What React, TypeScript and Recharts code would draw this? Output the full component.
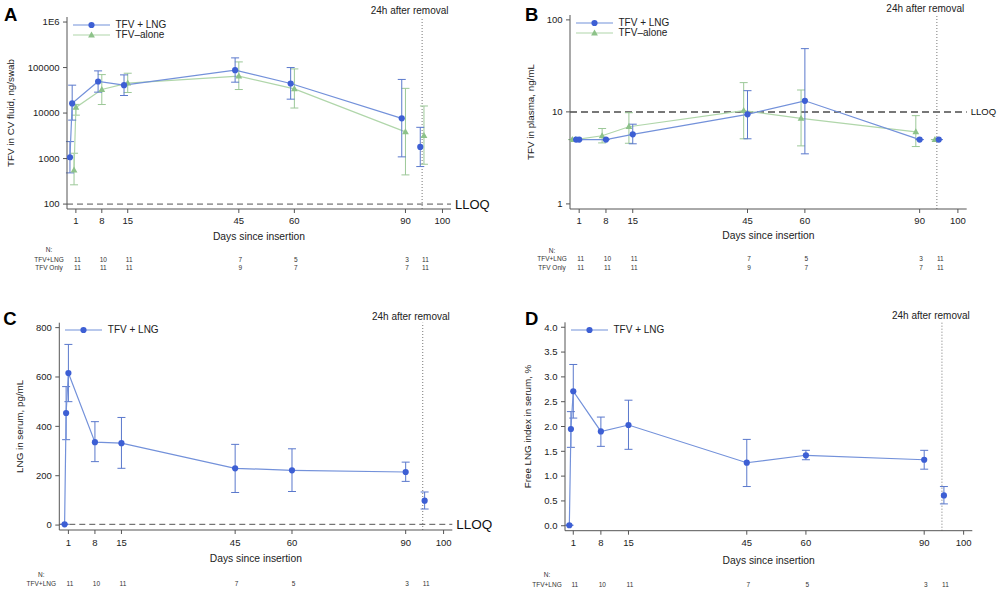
import React from "react";
import {
  ErrorBar,
  Label,
  Legend,
  Line,
  LineChart,
  ReferenceLine,
  XAxis,
  YAxis,
} from "recharts";

const FONT = "'Liberation Sans', Arial, Helvetica, sans-serif";
const INK = "#222";
const FRAME = "#555";
const BLUE = "#3d5fd4";
const BLUE_LINE = "#7391da";
const BLUE_ERR = "#5a78cc";
const GREEN = "#8dc289";
const GREEN_LINE = "#b0d6aa";
const GREEN_ERR = "#9cc898";

// shared x axis / N table
const dayTicks = [1, 8, 15, 45, 60, 90, 100];
const nDays = [1, 8, 15, 45, 60, 90, 95];
const nTfvLng = [11, 10, 11, 7, 5, 3, 11];
const nTfvOnly = [11, 11, 11, 9, 7, 7, 11];
const removalDay = 94.5;

// A: TFV in CV fluid (last entry = 24h after removal)
const aLngDays = [-0.6, 0, 7, 14, 44, 59, 89, 94];
const aLngMean = [1070, 16300, 49400, 41000, 87500, 44600, 7650, 1800];
const aLngLow = [485, 7000, 28800, 24300, 47700, 20200, 1090, 668];
const aLngHigh = [2360, 41000, 84500, 69000, 163000, 100000, 54800, 4860];
const aAloneDays = [0.5, 1, 8, 15, 45, 60, 90, 95];
const aAloneMean = [560, 13300, 32900, 45300, 64500, 34000, 3850, 3200];
const aAloneLow = [265, 9000, 15400, 28300, 32900, 12900, 438, 751];
const aAloneHigh = [1310, 15500, 70000, 75000, 133000, 93300, 34900, 14300];
const aTicks = [100, 1000, 10000, 100000, 1000000];

// B: TFV in plasma
const bLngDays = [0.2, 1, 8, 15, 45, 60, 90, 95];
const bLngMean = [5, 5, 5, 5.7, 9.4, 13.2, 5, 5];
const bLngLow = [5, 5, 5, 4.5, 5.1, 3.5, 5, 5];
const bLngHigh = [5, 5, 5, 7.35, 17, 48.7, 5, 5];
const bAloneDays = [-0.8, 0, 7, 14, 44, 59, 89, 94];
const bAloneMean = [5, 5, 5.5, 6.9, 10.3, 8.5, 6.06, 5];
const bAloneLow = [5, 5, 4.6, 4.56, 5.1, 4.27, 4.2, 5];
const bAloneHigh = [5, 5, 6.6, 9.8, 20.8, 17.3, 9.1, 5];
const bTicks = [1, 10, 100];

// C: LNG in serum
const cDays = [0, 0.4, 1, 8, 15, 45, 60, 90, 95];
const cMean = [3, 454, 616, 336, 332, 230, 222, 215, 99];
const cLow = [3, 346, 500, 257, 230, 132, 136, 177, 65];
const cHigh = [3, 561, 732, 419, 436, 327, 309, 255, 134];
const cTicks = [0, 200, 400, 600, 800];

// D: free LNG index
const dDays = [0, 0.4, 1, 8, 15, 45, 60, 90, 95];
const dMean = [0.01, 1.95, 2.71, 1.9, 2.03, 1.27, 1.42, 1.33, 0.61];
const dLow = [0.01, 1.58, 2.17, 1.6, 1.54, 0.79, 1.33, 1.14, 0.44];
const dHigh = [0.01, 2.3, 3.25, 2.19, 2.53, 1.74, 1.52, 1.52, 0.79];
const dTicks = [0, 0.5, 1, 1.5, 2, 2.5, 3, 3.5, 4];

type Pt = { day: number; v: number; err: [number, number] };
type Series = {
  name: string;
  kind: "circle" | "triangle";
  days: number[];
  mean: number[];
  low: number[];
  high: number[];
  color: string;
  line: string;
  err: string;
};

function toPoints(s: Series): Pt[] {
  return s.days.map((d, i) => ({
    day: d,
    v: s.mean[i],
    err: [s.mean[i] - s.low[i], s.high[i] - s.mean[i]],
  }));
}

function drawMarker(kind: string, color: string, cx: number, cy: number, key?: any) {
  if (kind === "triangle") {
    return (
      <polygon
        key={key}
        points={`${cx},${cy - 3.6} ${cx - 3.4},${cy + 2.4} ${cx + 3.4},${cy + 2.4}`}
        fill={color}
      />
    );
  }
  return <circle key={key} cx={cx} cy={cy} r={3.1} fill={color} />;
}

function dotFor(kind: string, color: string) {
  return (p: any) => {
    if (p.cx == null || p.cy == null) return <g key={p.index} />;
    return drawMarker(kind, color, p.cx, p.cy, p.index);
  };
}

const lngA: Series = { name: "TFV + LNG", kind: "circle", days: aLngDays, mean: aLngMean, low: aLngLow, high: aLngHigh, color: BLUE, line: BLUE_LINE, err: BLUE_ERR };
const aloneA: Series = { name: "TFV\u2013alone", kind: "triangle", days: aAloneDays, mean: aAloneMean, low: aAloneLow, high: aAloneHigh, color: GREEN, line: GREEN_LINE, err: GREEN_ERR };
const lngB: Series = { ...lngA, days: bLngDays, mean: bLngMean, low: bLngLow, high: bLngHigh };
const aloneB: Series = { ...aloneA, days: bAloneDays, mean: bAloneMean, low: bAloneLow, high: bAloneHigh };
const lngC: Series = { ...lngA, days: cDays, mean: cMean, low: cLow, high: cHigh };
const lngD: Series = { ...lngA, days: dDays, mean: dMean, low: dLow, high: dHigh };

type PanelProps = {
  letter: string;
  letterPos: [number, number];
  left: number;
  top: number;
  width: number;
  height: number;
  plot: { l: number; r: number; t: number; b: number };
  xDomain: [number, number];
  yScale: "log" | "linear";
  yDomain: [number, number];
  yTicks: number[];
  yFmt: (v: number) => string;
  yLabel: string;
  yLabelX: number;
  series: Series[]; // drawn in this order, legend listed in reverse
  lloq?: { y: number; size: number; width: number; color: string; dash: string };
  xTickMargin: number;
  daysBase: number;
  nBase: number;
  rowBases: number[];
  rows: { label: string; values: number[] }[];
};

function Panel(p: PanelProps) {
  const axisH = p.daysBase + 1;
  const tableH = p.rowBases[p.rowBases.length - 1] - axisH + 4;
  const margin = {
    top: p.plot.t,
    right: p.width - p.plot.r,
    left: 0,
    bottom: p.height - p.plot.b - axisH - tableH,
  };
  const legendItems = [...p.series].reverse();
  const tickStyle = { fontSize: 9.5, fill: INK, fontFamily: FONT };

  const tableTick = (t: any) => {
    const i = nDays.indexOf(t.payload.value);
    return (
      <g key={t.index}>
        {p.rows.map((r, k) => (
          <text
            key={k}
            x={t.x + 1.5}
            y={t.y + p.rowBases[k] - axisH}
            textAnchor="middle"
            fontSize={6.5}
            fill="#333"
            fontFamily={FONT}
          >
            {r.values[i]}
          </text>
        ))}
      </g>
    );
  };

  const tableLabel = (lp: any) => {
    const vb = lp.viewBox || {};
    const cx = vb.x - 18;
    return (
      <g fontSize={6.5} fill="#333" fontFamily={FONT} textAnchor="middle">
        <text x={cx} y={vb.y + p.nBase - axisH}>N:</text>
        {p.rows.map((r, k) => (
          <text key={k} x={cx} y={vb.y + p.rowBases[k] - axisH}>
            {r.label}
          </text>
        ))}
      </g>
    );
  };

  // text sits above the frame, flush with its right edge
  const removalLabel = () => (
    <text
      x={p.plot.r - 2.5}
      y={p.plot.t - 3}
      textAnchor="end"
      fontSize={10}
      fill={INK}
      fontFamily={FONT}
    >
      24h after removal
    </text>
  );

  const legendContent = () => (
    <div style={{ fontFamily: FONT, fontSize: 10, color: INK }}>
      {legendItems.map((s) => (
        <div key={s.name} style={{ display: "flex", alignItems: "center", height: 10 }}>
          <svg width={37} height={10} style={{ marginRight: 5.5 }}>
            <line x1={0} x2={37} y1={5} y2={5} stroke={s.line} strokeWidth={1.2} />
            {drawMarker(s.kind, s.color, 18.5, 5)}
          </svg>
          <span style={{ lineHeight: "10px" }}>{s.name}</span>
        </div>
      ))}
    </div>
  );

  return (
    <div style={{ position: "absolute", left: p.left, top: p.top, width: p.width, height: p.height }}>
      <LineChart width={p.width} height={p.height} margin={margin} style={{ fontFamily: FONT }}>
        <XAxis
          xAxisId="main"
          dataKey="day"
          type="number"
          domain={p.xDomain}
          allowDataOverflow
          ticks={dayTicks}
          interval={0}
          height={axisH}
          tickSize={4}
          tickMargin={p.xTickMargin}
          axisLine={{ stroke: FRAME }}
          tickLine={{ stroke: FRAME }}
          tick={tickStyle}
        >
          <Label
            value="Days since insertion"
            position="insideBottom"
            offset={1}
            fontSize={10.3}
            fill={INK}
            fontFamily={FONT}
          />
        </XAxis>
        <XAxis
          xAxisId="n"
          dataKey="day"
          type="number"
          domain={p.xDomain}
          allowDataOverflow
          ticks={nDays}
          interval={0}
          height={tableH}
          tickSize={0}
          tickMargin={0}
          axisLine={false}
          tickLine={false}
          tick={tableTick}
        >
          <Label content={tableLabel} />
        </XAxis>
        <XAxis
          xAxisId="top"
          orientation="top"
          type="number"
          domain={p.xDomain}
          height={0}
          tick={false}
          tickLine={false}
          axisLine={{ stroke: FRAME }}
        />
        <YAxis
          yAxisId="main"
          type="number"
          scale={p.yScale}
          domain={p.yDomain}
          allowDataOverflow
          ticks={p.yTicks}
          interval={0}
          tickFormatter={p.yFmt}
          width={p.plot.l}
          tickSize={4}
          tickMargin={3.5}
          axisLine={{ stroke: FRAME }}
          tickLine={{ stroke: FRAME }}
          tick={tickStyle}
        >
          <Label
            value={p.yLabel}
            angle={-90}
            position="insideLeft"
            offset={p.yLabelX}
            fontSize={9.8}
            fill={INK}
            fontFamily={FONT}
            style={{ textAnchor: "middle" }}
          />
        </YAxis>
        <YAxis
          yAxisId="frame"
          orientation="right"
          type="number"
          domain={[0, 1]}
          width={0}
          tick={false}
          tickLine={false}
          axisLine={{ stroke: FRAME }}
        />
        {p.lloq && (
          <ReferenceLine
            xAxisId="main"
            yAxisId="main"
            y={p.lloq.y}
            stroke={p.lloq.color}
            strokeWidth={p.lloq.width}
            strokeDasharray={p.lloq.dash}
            label={{
              value: "LLOQ",
              position: "right",
              offset: 4,
              fontSize: p.lloq.size,
              fill: "#111",
              fontFamily: FONT,
            }}
          />
        )}
        <ReferenceLine
          xAxisId="main"
          yAxisId="main"
          x={removalDay}
          stroke="#777"
          strokeWidth={1}
          strokeDasharray="1 2"
          label={<Label content={removalLabel} />}
        />
        {p.series.map((s) => {
          const pts = toPoints(s);
          return (
            <Line
              key={s.name}
              xAxisId="main"
              yAxisId="main"
              name={s.name}
              data={pts.slice(0, -1)}
              dataKey="v"
              type="linear"
              stroke={s.line}
              strokeWidth={1.2}
              dot={dotFor(s.kind, s.color)}
              activeDot={false}
              isAnimationActive={false}
            >
              <ErrorBar dataKey="err" direction="y" width={4} stroke={s.err} strokeWidth={1} />
            </Line>
          );
        })}
        {p.series.map((s) => {
          const pts = toPoints(s);
          return (
            <Line
              key={s.name + "-post"}
              xAxisId="main"
              yAxisId="main"
              name={s.name + " (post)"}
              legendType="none"
              data={pts.slice(-1)}
              dataKey="v"
              stroke="none"
              dot={dotFor(s.kind, s.color)}
              activeDot={false}
              isAnimationActive={false}
            >
              <ErrorBar dataKey="err" direction="y" width={4} stroke={s.err} strokeWidth={1} />
            </Line>
          );
        })}
        <Legend
          layout="vertical"
          align="center"
          verticalAlign="middle"
          content={legendContent}
          wrapperStyle={{ left: p.plot.l + 6, top: p.plot.t + 2.5, width: "auto", height: "auto" }}
        />
      </LineChart>
      <svg
        width={30}
        height={40}
        style={{ position: "absolute", left: 0, top: 0, overflow: "visible" }}
      >
        <text
          x={p.letterPos[0]}
          y={p.letterPos[1]}
          fontSize={18.5}
          fontWeight="bold"
          fill="#000"
          fontFamily={FONT}
        >
          {p.letter}
        </text>
      </svg>
    </div>
  );
}

const fmtLogA = (v: number) => (v >= 1000000 ? "1E6" : String(v));
const fmtPlain = (v: number) => String(v);
const fmtOneDec = (v: number) => v.toFixed(1);

const twoRows = [
  { label: "TFV+LNG", values: nTfvLng },
  { label: "TFV Only", values: nTfvOnly },
];
const oneRow = [{ label: "TFV+LNG", values: nTfvLng }];

export default function App() {
  return (
    <div style={{ position: "absolute", left: 0, top: 0, width: 1001, height: 592, background: "#fff" }}>
      <Panel
        letter="A"
        letterPos={[4, 20.7]}
        left={0}
        top={0}
        width={500}
        height={290}
        plot={{ l: 67, r: 451, t: 17, b: 209 }}
        xDomain={[-1.4, 102.3]}
        yScale="log"
        yDomain={[78, 1290000]}
        yTicks={aTicks}
        yFmt={fmtLogA}
        yLabel="TFV in CV fluid, ng/swab"
        yLabelX={10.8}
        series={[aloneA, lngA]}
        lloq={{ y: 100, size: 13, width: 1, color: "#555", dash: "6 4" }}
        xTickMargin={4}
        daysBase={30.5}
        nBase={43.3}
        rowBases={[53.3, 61.3]}
        rows={twoRows}
      />
      <Panel
        letter="B"
        letterPos={[25, 20.7]}
        left={500}
        top={0}
        width={501}
        height={290}
        plot={{ l: 70, r: 466.7, t: 15, b: 209 }}
        xDomain={[-1.4, 102.3]}
        yScale="log"
        yDomain={[0.88, 113]}
        yTicks={bTicks}
        yFmt={fmtPlain}
        yLabel="TFV in plasma, ng/mL"
        yLabelX={30.3}
        series={[aloneB, lngB]}
        lloq={{ y: 10, size: 9.5, width: 2, color: "#777", dash: "7 4" }}
        xTickMargin={4}
        daysBase={30}
        nBase={44}
        rowBases={[52.3, 61]}
        rows={twoRows}
      />
      <Panel
        letter="C"
        letterPos={[3.3, 35]}
        left={0}
        top={290}
        width={500}
        height={302}
        plot={{ l: 59.3, r: 452.3, t: 32.7, b: 240 }}
        xDomain={[-1.4, 102.3]}
        yScale="linear"
        yDomain={[-20, 820]}
        yTicks={cTicks}
        yFmt={fmtPlain}
        yLabel="LNG in serum, pg/mL"
        yLabelX={19.5}
        series={[lngC]}
        lloq={{ y: 3, size: 13.5, width: 1, color: "#555", dash: "6 4" }}
        xTickMargin={5}
        daysBase={32.4}
        nBase={46.6}
        rowBases={[56.3]}
        rows={oneRow}
      />
      <Panel
        letter="D"
        letterPos={[25, 35]}
        left={500}
        top={290}
        width={501}
        height={302}
        plot={{ l: 65, r: 472.3, t: 32.3, b: 240.7 }}
        xDomain={[-1.1, 102.2]}
        yScale="linear"
        yDomain={[-0.1, 4.1]}
        yTicks={dTicks}
        yFmt={fmtOneDec}
        yLabel="Free LNG index in serum, %"
        yLabelX={28}
        series={[lngD]}
        xTickMargin={5}
        daysBase={33}
        nBase={46.6}
        rowBases={[56.6]}
        rows={oneRow}
      />
    </div>
  );
}
